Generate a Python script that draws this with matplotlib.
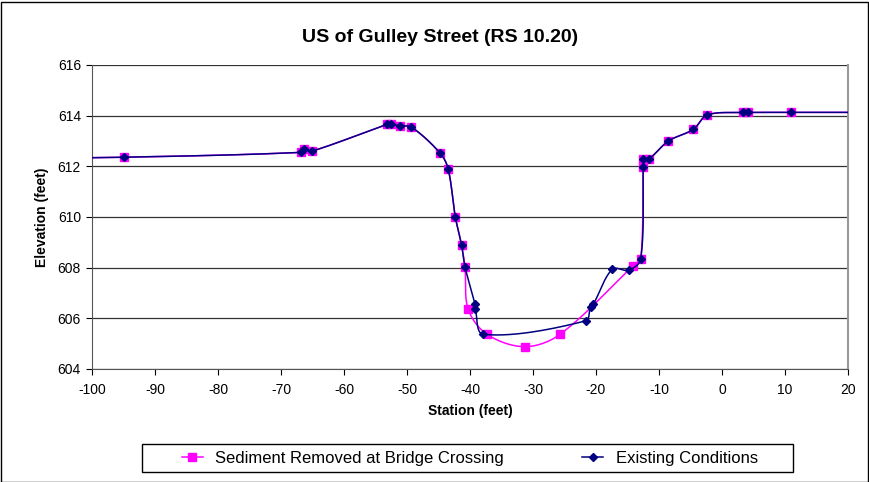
import numpy as np
import matplotlib
matplotlib.use("Agg")
import matplotlib.pyplot as plt
from matplotlib.patches import Rectangle

plt.rcParams['font.family'] = ['Liberation Sans', 'DejaVu Sans']
plt.rcParams['axes.unicode_minus'] = False

title = "US of Gulley Street (RS 10.20)"
xlabel = "Station (feet)"
ylabel = "Elevation (feet)"
series_names = ["Sediment Removed at Bridge Crossing", "Existing Conditions"]

ex_station = [-120, -94.9, -66.9, -66.35, -65.1, -53.1, -52.5, -51.1, -49.3, -44.7, -43.45,
              -42.33, -41.33, -40.8, -39.2, -39.15, -37.9, -21.65, -20.86, -20.4, -17.4,
              -14.8, -12.9, -12.5, -12.5, -11.6, -8.5, -4.55, -2.33, 3.38, 4.17, 10.95, 30]
ex_elev = [612.3, 612.36, 612.55, 612.68, 612.6, 613.66, 613.66, 613.6, 613.55, 612.51, 611.88,
           610.01, 608.88, 608.04, 606.55, 606.37, 605.37, 605.9, 606.46, 606.57, 607.94,
           607.9, 608.34, 611.99, 612.29, 612.29, 613.0, 613.46, 614.03, 614.13, 614.13, 614.13, 614.13]

sed_station = [-120, -94.9, -66.9, -66.35, -65.1, -53.1, -52.5, -51.1, -49.3, -44.7, -43.45,
               -42.33, -41.33, -40.8, -40.3, -37.3, -31.3, -25.7, -14.1,
               -12.9, -12.5, -12.5, -11.6, -8.5, -4.55, -2.33, 3.38, 4.17, 10.95, 30]
sed_elev = [612.3, 612.36, 612.55, 612.68, 612.6, 613.66, 613.66, 613.6, 613.55, 612.51, 611.88,
            610.01, 608.88, 608.04, 606.37, 605.37, 604.88, 605.37, 608.07,
            608.34, 611.99, 612.29, 612.29, 613.0, 613.46, 614.03, 614.13, 614.13, 614.13, 614.13]

xlim = (-100, 20)
ylim = (604, 616)
xticks = np.arange(-100, 21, 10)
yticks = np.arange(604, 617, 2)

W, H = 869, 482
fig = plt.figure(figsize=(W / 100, H / 100), dpi=100)
L, R, T, B = 92, 848, 65, 369
ax = fig.add_axes([L / W, 1 - B / H, (R - L) / W, (B - T) / H])
ax.set_xlim(*xlim)
ax.set_ylim(*ylim)

sx = (R - L) / (xlim[1] - xlim[0])
sy = (B - T) / (ylim[1] - ylim[0])


def smooth(xs, ys, n=30):
    P = np.column_stack([np.asarray(xs, float) * sx, np.asarray(ys, float) * sy])
    N = len(P)
    out = []
    for i in range(N - 1):
        p1, p2 = P[i], P[i + 1]
        p0 = P[i - 1] if i > 0 else p1
        p3 = P[i + 2] if i + 2 < N else p2
        d0 = np.linalg.norm(p1 - p0)
        d1 = np.linalg.norm(p2 - p1)
        d2 = np.linalg.norm(p3 - p2)
        c1 = p1 + (p2 - p0) * (d1 / max(d0 + d1, 1e-9)) / 3
        c2 = p2 - (p3 - p1) * (d1 / max(d1 + d2, 1e-9)) / 3
        t = np.linspace(0, 1, n)[:, None]
        seg = ((1 - t) ** 3) * p1 + 3 * ((1 - t) ** 2) * t * c1 + 3 * (1 - t) * t ** 2 * c2 + t ** 3 * p2
        out.append(seg if i == 0 else seg[1:])
    C = np.vstack(out)
    return C[:, 0] / sx, C[:, 1] / sy


sxs, sys_ = smooth(sed_station, sed_elev)
exs, eys = smooth(ex_station, ex_elev)

pink, navy = '#FF00FF', '#000080'
ax.plot(sxs, sys_, color=pink, lw=1.1, zorder=3)
ax.plot(sed_station, sed_elev, ls='none', marker='s', ms=5.2, color=pink, zorder=3)
ax.plot(exs, eys, color=navy, lw=1.1, zorder=4)
ax.plot(ex_station, ex_elev, ls='none', marker='D', ms=4.3, color=navy, zorder=4)

ax.set_xticks(xticks)
ax.set_yticks(yticks)
ax.tick_params(labelsize=10, direction='out', length=4, width=0.8, color='black', pad=4)
ax.tick_params(axis='x', pad=6)
ax.grid(axis='y', color='#333333', lw=0.9)
ax.set_axisbelow(True)
ax.spines['top'].set_visible(False)
ax.spines['right'].set_color('#999999')
ax.spines['right'].set_linewidth(1.5)
ax.spines['left'].set_color('#555555')
ax.spines['bottom'].set_color('#555555')

ax.set_xlabel(xlabel, fontsize=10, fontweight='bold', labelpad=5)
ax.set_ylabel(ylabel, fontsize=10, fontweight='bold', labelpad=6)
fig.text(440 / W, 1 - 38 / H, title, ha='center', va='center', fontsize=14, fontweight='bold')

h1, = ax.plot([], [], color=pink, marker='s', ms=5.5, lw=1.1)
h2, = ax.plot([], [], color=navy, marker='D', ms=4.5, lw=1.1)
leg = fig.legend([h1, h2], series_names, loc='center left',
                 bbox_to_anchor=(182 / W, 1 - 458 / H), ncol=2,
                 fontsize=12, frameon=False, borderpad=0, borderaxespad=0,
                 columnspacing=4.7, handlelength=1.25, handletextpad=0.75)

fig.patches.append(Rectangle((142 / W, 1 - 472 / H), (793 - 142) / W, 28 / H, transform=fig.transFigure,
                             fill=False, edgecolor='black', lw=1))
fig.patches.append(Rectangle((0.5 / W, 0.5 / H), 1 - 2 / W, 1 - 2 / H, transform=fig.transFigure,
                             fill=False, edgecolor='black', lw=1))

fig.savefig("out.png", dpi=100)
